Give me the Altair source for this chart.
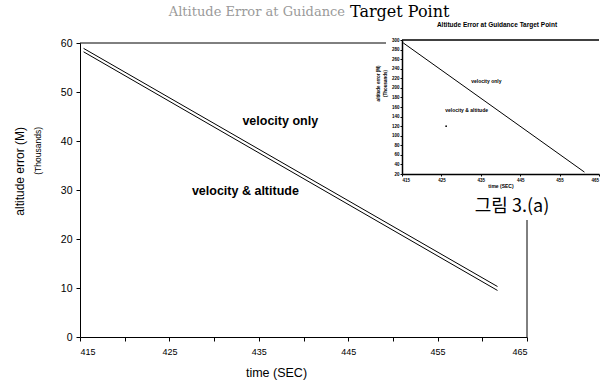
import altair as alt
import pandas as pd

# ---------------- data ----------------
series_names = ["velocity only", "velocity & altitude"]
series_t = [[415.4, 461.7], [415.4, 461.7]]
series_err = [[58.9, 10.3], [58.2, 9.5]]

main_x_ticks = [415, 420, 425, 430, 435, 440, 445, 450, 455, 460, 465]
main_y_ticks = [0, 10, 20, 30, 40, 50, 60]

label_text = ["velocity only", "velocity & altitude"]
label_t = [437.4, 433.5]
label_err = [44.1, 29.8]

inset_t = [415.3, 461.3]
inset_err = [294, 24]
inset_x_ticks = [415, 425, 435, 445, 455, 465]
inset_y_ticks = [20, 40, 60, 80, 100, 120, 140, 160, 180, 200, 220, 240, 260, 280, 300]
inset_label_t = [436.4, 431.4]
inset_label_err = [214, 154]
inset_dot_t = [426.2]
inset_dot_err = [120]

W, H = 447, 294

rows = []
for name, ts, es in zip(series_names, series_t, series_err):
    for t, e in zip(ts, es):
        rows.append({"series": name, "t": t, "err": e})
main_df = pd.DataFrame(rows)
labels_df = pd.DataFrame({"label": label_text, "t": label_t, "err": label_err})
inset_df = pd.DataFrame({"t": inset_t, "err": inset_err})
inset_labels_df = pd.DataFrame({"label": label_text, "t": inset_label_t, "err": inset_label_err})
inset_dot_df = pd.DataFrame({"t": inset_dot_t, "err": inset_dot_err})
inset_frame_df = pd.DataFrame({"t0": [inset_x_ticks[0]], "t1": [inset_x_ticks[-1]], "e": [inset_y_ticks[-1]]})
one = pd.DataFrame({"a": [0]})

FONT = "Liberation Sans"

xs = alt.Scale(domain=[415, 465], nice=False, zero=False)
ys = alt.Scale(domain=[0, 60], nice=False, zero=False)
ixs = alt.Scale(domain=[415, 465], range=[322, 519], nice=False, zero=False)
iys = alt.Scale(domain=[20, 300], range=[131, -3], nice=False, zero=False)

# frame of main plot
frame_top = alt.Chart(one).mark_rule(color="black", strokeWidth=1).encode(
    x=alt.value(0), x2=alt.value(W), y=alt.value(0))
frame_right = alt.Chart(one).mark_rule(color="black", strokeWidth=1).encode(
    x=alt.value(W), y=alt.value(0), y2=alt.value(H))

lines = alt.Chart(main_df).mark_line(color="black", strokeWidth=1).encode(
    x=alt.X("t:Q", scale=xs, axis=alt.Axis(
        orient="bottom", values=main_x_ticks,
        labelExpr="datum.value % 10 == 5 ? datum.label : ''",
        grid=False, tickSize=4, labelPadding=6, labelFontSize=9, labelFont=FONT,
        labelColor="black", tickColor="black", domainColor="black",
        title="time (SEC)", titleFont=FONT, titleFontSize=12.5, titleFontWeight="normal",
        titleColor="black", titleX=196, titleY=35, titleAlign="center", titleBaseline="middle")),
    y=alt.Y("err:Q", scale=ys, axis=alt.Axis(
        orient="left", values=main_y_ticks, grid=False, tickSize=4, labelPadding=4,
        labelFontSize=10.5, labelFont=FONT, labelColor="black", tickColor="black",
        domainColor="black", title=None)),
    detail="series:N",
)

main_labels = alt.Chart(labels_df).mark_text(
    font=FONT, fontWeight="bold", fontSize=12.5, color="black").encode(
    x=alt.X("t:Q", scale=xs, axis=None),
    y=alt.Y("err:Q", scale=ys, axis=None),
    text="label:N")

ytitle1 = alt.Chart(one).mark_text(font=FONT, fontSize=12, angle=270, align="right",
                                   baseline="middle", color="black").encode(
    x=alt.value(-60), y=alt.value(84), text=alt.value("altitude error (M)"))
ytitle2 = alt.Chart(one).mark_text(font=FONT, fontSize=8.5, angle=270, align="right",
                                   baseline="middle", color="black").encode(
    x=alt.value(-42), y=alt.value(84), text=alt.value("(Thousands)"))

# white backdrop of the inset
backdrop = alt.Chart(one).mark_rect(color="white").encode(
    x=alt.value(306), x2=alt.value(540), y=alt.value(-30), y2=alt.value(177))

inset_frame = alt.Chart(inset_frame_df).mark_rule(color="black", strokeWidth=1.5).encode(
    x=alt.X("t0:Q", scale=ixs, axis=None), x2="t1:Q",
    y=alt.Y("e:Q", scale=iys, axis=None))

inset_line = alt.Chart(inset_df).mark_line(color="black", strokeWidth=1).encode(
    x=alt.X("t:Q", scale=ixs, axis=alt.Axis(
        orient="bottom", offset=-163, values=inset_x_ticks, grid=False, tickSize=2,
        labelPadding=1, labelFontSize=4.5, labelFontWeight="bold", labelFont=FONT,
        labelColor="black", tickColor="black", domainColor="black", domainWidth=1.5,
        labelExpr="datum.value == 465 ? '' : datum.label",
        title="time (SEC)", titleFont=FONT, titleFontSize=5, titleFontWeight="bold",
        titleColor="black", titlePadding=2, zindex=1)),
    y=alt.Y("err:Q", scale=iys, axis=alt.Axis(
        orient="left", offset=-322, values=inset_y_ticks, grid=False, tickSize=2,
        labelPadding=1, labelFontSize=4.5, labelFontWeight="bold", labelFont=FONT,
        labelColor="black", tickColor="black", domainColor="black", domainWidth=1.5,
        title=["altitude error (M)", "(Thousands)"], titleFont=FONT, titleFontSize=4.5,
        titleFontWeight="bold", titleColor="black", titlePadding=4, titleY=40, zindex=1)),
)

# last inset tick label, kept inside the page
inset_last_label = alt.Chart(pd.DataFrame({"t": [inset_x_ticks[-1]], "e": [inset_y_ticks[0]]})).mark_text(
    font=FONT, fontWeight="bold", fontSize=4.5, color="black", align="right", baseline="top", dy=3.5).encode(
    x=alt.X("t:Q", scale=ixs, axis=None),
    y=alt.Y("e:Q", scale=iys, axis=None),
    text=alt.Text("t:Q"))

inset_labels = alt.Chart(inset_labels_df).mark_text(
    font=FONT, fontWeight="bold", fontSize=5, color="black").encode(
    x=alt.X("t:Q", scale=ixs, axis=None),
    y=alt.Y("err:Q", scale=iys, axis=None),
    text="label:N")

inset_dot = alt.Chart(inset_dot_df).mark_circle(color="black", size=3, opacity=1).encode(
    x=alt.X("t:Q", scale=ixs, axis=None),
    y=alt.Y("err:Q", scale=iys, axis=None))

inset_title = alt.Chart(one).mark_text(font=FONT, fontWeight="bold", fontSize=6.5,
                                       color="black").encode(
    x=alt.value(417), y=alt.value(-18),
    text=alt.value("Altitude Error at Guidance Target Point"))

caption = alt.Chart(one).mark_text(font="Noto Sans CJK KR", fontSize=18, color="black",
                                   baseline="middle").encode(
    x=alt.value(432), y=alt.value(164), text=alt.value("그림 3.(a)"))

title_faint = alt.Chart(one).mark_text(font="DejaVu Serif", fontSize=13, color="#9a9a9a",
                                       align="right", baseline="middle").encode(
    x=alt.value(265), y=alt.value(-31), text=alt.value("Altitude Error at Guidance"))
title_dark = alt.Chart(one).mark_text(font="DejaVu Serif", fontSize=16, color="black",
                                      align="left", baseline="middle").encode(
    x=alt.value(270), y=alt.value(-31), text=alt.value("Target Point"))

chart = alt.layer(
    frame_top, frame_right, lines, main_labels, ytitle1, ytitle2,
    backdrop, inset_frame, inset_line, inset_last_label, inset_labels, inset_dot, inset_title,
    caption, title_faint, title_dark,
).resolve_scale(
    x="independent", y="independent"
).properties(
    width=W, height=H,
    padding={"left": 80, "top": 43, "right": 73, "bottom": 49},
    autosize=alt.AutoSizeParams(type="none"),
    background="white",
).configure_view(stroke=None)

chart.save("out.html", embed_options={"renderer": "svg", "actions": False})
